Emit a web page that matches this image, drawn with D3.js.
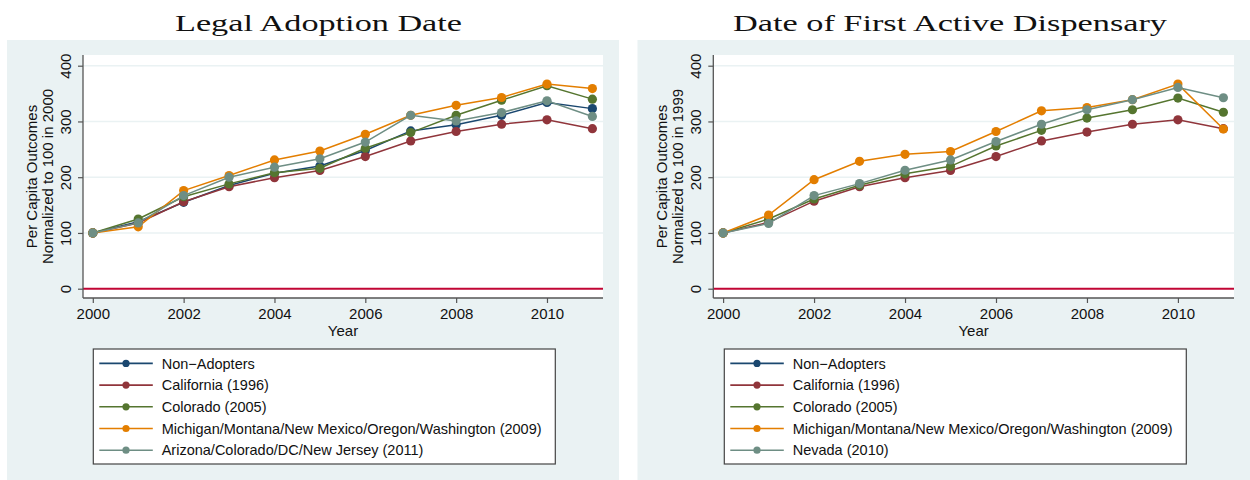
<!DOCTYPE html>
<html><head><meta charset="utf-8">
<script src="https://cdn.jsdelivr.net/npm/d3@7"></script>
<style>
html,body{margin:0;padding:0;background:#fff;}
svg text{font-family:"Liberation Sans",Arial,Helvetica,sans-serif;}
</style></head>
<body><svg id="c" width="1250" height="480"></svg>
<script>
// ---------- data ----------
const years = [2000,2001,2002,2003,2004,2005,2006,2007,2008,2009,2010,2011];
const yTicks = [0,100,200,300,400];
const xTicks = [2000,2002,2004,2006,2008,2010];

const leftTitle = "Legal Adoption Date";
const leftYTitle = ["Per Capita Outcomes","Normalized to 100 in 2000"];
const leftNames = ["Non\u2212Adopters","California (1996)","Colorado (2005)","Michigan/Montana/New Mexico/Oregon/Washington (2009)","Arizona/Colorado/DC/New Jersey (2011)"];
const leftNonAdopters = [100,120,155,185,207,220,248,283,294,311,334,323];
const leftCalifornia  = [100,118,156,183,199,212,237,265,282,295,303,287];
const leftColorado    = [100,125,165,188,208,216,252,280,311,338,364,340];
const leftMichigan    = [100,111,176,203,231,247,277,311,329,343,367,359];
const leftArizona     = [100,118,167,200,218,233,263,311,301,316,337,309];

const rightTitle = "Date of First Active Dispensary";
const rightYTitle = ["Per Capita Outcomes","Normalized to 100 in 1999"];
const rightNames = ["Non\u2212Adopters","California (1996)","Colorado (2005)","Michigan/Montana/New Mexico/Oregon/Washington (2009)","Nevada (2010)"];
const rightNonAdopters = [];
const rightCalifornia  = [100,119,157,183,199,212,237,265,281,295,303,287];
const rightColorado    = [100,125,161,185.5,206,219.5,256,284,306,321,342,316.5];
const rightMichigan    = [100,132,195.5,228.5,241,246,282,319,325,339,367,286.5];
const rightNevada      = [100,117,167,188.5,212.5,231,264,295,321,339,361,342.5];

const colors = ["#1a476f","#90353b","#55752f","#e37e00","#6e8e84"];

// ---------- drawing ----------
const svg = d3.select("#c");

function panel(o){
  const g = svg.append("g");
  g.append("rect").attr("x",o.bgX).attr("y",40).attr("width",o.bgW).attr("height",440).attr("fill","#eaf2f3");
  g.append("text").attr("x",o.titleX).attr("y",31).attr("text-anchor","middle")
    .attr("textLength",o.titleW).attr("lengthAdjust","spacingAndGlyphs")
    .style("font-family","'Liberation Serif','Times New Roman',serif").style("font-size","24px").attr("fill","#111")
    .text(o.title);
  const L=o.plotL, R=o.plotR, T=55, B=298;
  g.append("rect").attr("x",L).attr("y",T).attr("width",R-L).attr("height",B-T).attr("fill","#fff");
  const x = d3.scaleLinear().domain([2000,2011]).range([L+9.8,R-10.6]);
  const y = d3.scaleLinear().domain([0,400]).range([288.7,65.7]);
  g.append("g").selectAll("line").data(yTicks.filter(d=>d>0)).join("line")
    .attr("x1",L).attr("x2",R).attr("y1",d=>y(d)).attr("y2",d=>y(d))
    .attr("stroke","#eaf2f3").attr("stroke-width",1.5);
  g.append("line").attr("x1",L).attr("x2",R).attr("y1",y(0)).attr("y2",y(0))
    .attr("stroke","#c10534").attr("stroke-width",2);
  const ya = g.append("g").attr("transform",`translate(${L},0)`)
    .call(d3.axisLeft(y).tickValues(yTicks).tickSize(5).tickPadding(7));
  ya.select(".domain").attr("d",`M0,${T}V${B}`).attr("stroke","#555").attr("stroke-width",1.3);
  ya.selectAll(".tick line").attr("stroke","#555").attr("stroke-width",1.2);
  ya.selectAll(".tick text").attr("transform",d=>`rotate(-90,-12,0)`)
    .attr("x",-12).attr("y",0).attr("dy","0").attr("text-anchor","middle")
    .style("font-size","15px").attr("fill","#111").attr("font-family",null);
  const xa = g.append("g").attr("transform",`translate(0,${B})`)
    .call(d3.axisBottom(x).tickValues(xTicks).tickFormat(d3.format("d")).tickSize(5).tickPadding(6));
  xa.select(".domain").attr("d",`M${L},0H${R}`).attr("stroke","#555").attr("stroke-width",1.3);
  xa.selectAll(".tick line").attr("stroke","#555").attr("stroke-width",1.2);
  xa.selectAll(".tick text").attr("y",21).attr("dy","0").style("font-size","15px").attr("fill","#111").attr("font-family",null);
  g.append("text").attr("x",(L+R)/2).attr("y",336).attr("text-anchor","middle").style("font-size","15px").attr("fill","#111").text("Year");
  const cy=(T+B)/2;
  g.append("text").attr("transform",`translate(${L-46},${cy}) rotate(-90)`).attr("text-anchor","middle").style("font-size","15px").attr("fill","#111").text(o.yTitle[0]);
  g.append("text").attr("transform",`translate(${L-30.5},${cy}) rotate(-90)`).attr("text-anchor","middle").style("font-size","15px").attr("fill","#111").text(o.yTitle[1]);
  const line = d3.line().x((d,i)=>x(years[i])).y(d=>y(d));
  o.series.forEach((s,k)=>{
    if(!s.length) return;
    g.append("path").attr("d",line(s)).attr("fill","none").attr("stroke",colors[k]).attr("stroke-width",1.5);
    g.append("g").selectAll("circle").data(s).join("circle")
      .attr("cx",(d,i)=>x(years[i])).attr("cy",d=>y(d)).attr("r",4.6).attr("fill",colors[k]);
  });
  const lx=o.legX, ly=349, lw=462, lh=115;
  g.append("rect").attr("x",lx).attr("y",ly).attr("width",lw).attr("height",lh).attr("fill","#fff").attr("stroke","#444").attr("stroke-width",1.2);
  o.names.forEach((n,k)=>{
    const ry = ly+14.4+k*21.7;
    g.append("line").attr("x1",lx+6).attr("x2",lx+59.5).attr("y1",ry).attr("y2",ry).attr("stroke",colors[k]).attr("stroke-width",1.6);
    g.append("circle").attr("cx",lx+32.7).attr("cy",ry).attr("r",3.6).attr("fill",colors[k]);
    g.append("text").attr("x",lx+68.4).attr("y",ry+5.2).style("font-size","14.5px").attr("fill","#111").text(n);
  });
}

panel({bgX:7,bgW:612,title:leftTitle,titleX:318.5,titleW:287,plotL:83,plotR:603,yTitle:leftYTitle,names:leftNames,legX:93.3,
  series:[leftNonAdopters,leftCalifornia,leftColorado,leftMichigan,leftArizona]});
panel({bgX:637.5,bgW:612.5,title:rightTitle,titleX:950,titleW:434,plotL:713.3,plotR:1234,yTitle:rightYTitle,names:rightNames,legX:724.3,
  series:[rightNonAdopters,rightCalifornia,rightColorado,rightMichigan,rightNevada]});
</script></body></html>
